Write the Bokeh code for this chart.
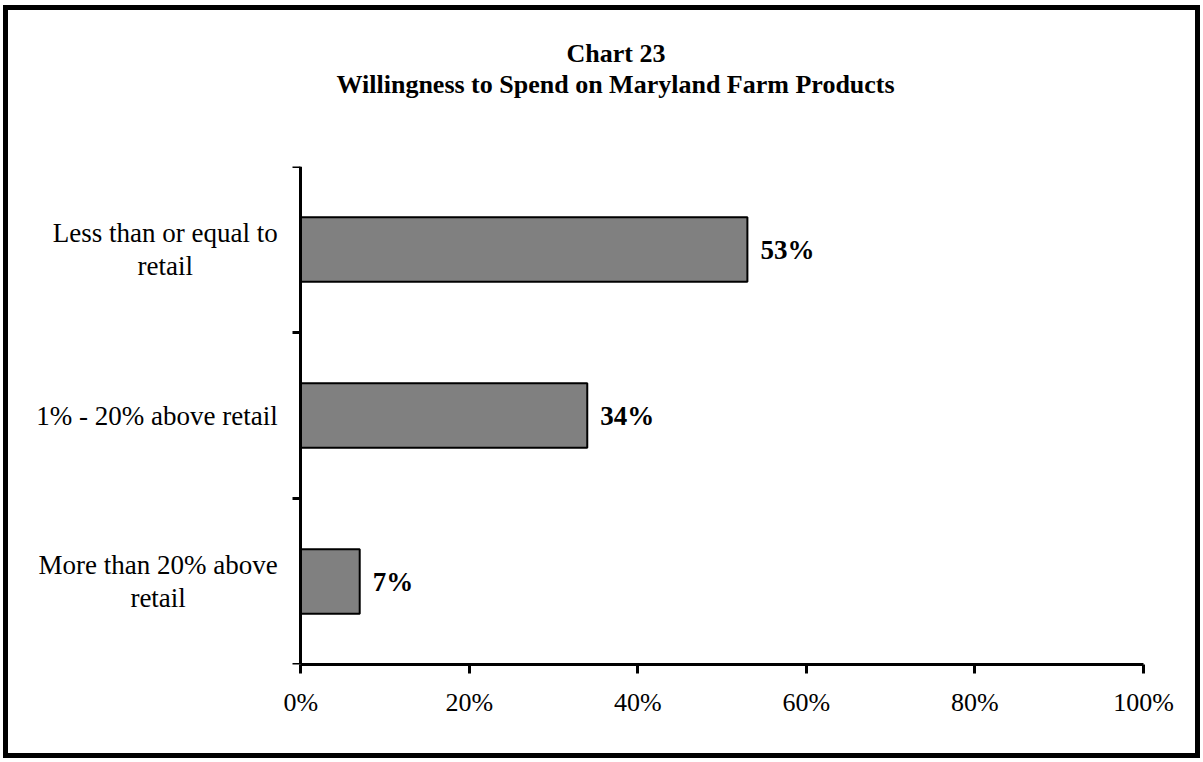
from bokeh.plotting import figure
from bokeh.models import (ColumnDataSource, Range1d, FixedTicker, CustomJSTickFormatter,
                          LabelSet, Label, Title)
from bokeh.embed import file_html
from bokeh.resources import INLINE

# Survey responses: share of respondents by willingness to pay (percent)
categories = ["Less than or equal to\nretail", "1% - 20% above retail", "More than 20% above\nretail"]
values = [53, 34, 7]
x_ticks = [0, 20, 40, 60, 80, 100]
title_lines = ["Chart 23", "Willingness to Spend on Maryland Farm Products"]

SERIF = "Liberation Serif"
BORDER = 5
X_MIN = -32.3   # room inside the frame for the category names

n = len(categories)
# top category first: slot i is centred at n - i - 0.5
ypos = [n - i - 0.5 for i in range(n)]
source = ColumnDataSource(dict(
    y=ypos,
    right=values,
    label=[f"{v}%" for v in values],
))

p = figure(width=1197, height=753, output_backend="svg", toolbar_location=None,
           x_range=Range1d(X_MIN, 100), y_range=Range1d(0, n),
           min_border_left=20, min_border_right=62,
           min_border_top=156, min_border_bottom=99)
p.styles = {"border": f"{BORDER}px solid black", "margin": "5px 0 0 3px"}
p.outline_line_color = None
p.xgrid.visible = False
p.ygrid.visible = False
p.background_fill_color = "white"
p.border_fill_color = "white"

p.hbar(y="y", right="right", left=0, height=0.39, source=source,
       fill_color="#808080", line_color="black", line_width=2)

# value labels at the end of each bar
p.add_layout(LabelSet(x="right", y="y", text="label", source=source,
                      x_offset=13, text_baseline="middle", text_align="left",
                      text_font=SERIF, text_font_style="bold",
                      text_font_size="27px", text_color="black"))

# x axis, drawn only over 0-100 %
xa = p.xaxis[0]
xa.bounds = (0, 100)
xa.ticker = FixedTicker(ticks=x_ticks)
xa.formatter = CustomJSTickFormatter(code="return tick.toFixed(0) + '%';")
xa.major_tick_in = 0
xa.major_tick_out = 9
xa.minor_tick_line_color = None
xa.axis_line_width = 3
xa.major_tick_line_width = 3
xa.major_label_text_font = SERIF
xa.major_label_text_font_size = "26px"
xa.major_label_text_color = "black"
xa.major_label_standoff = 14

# y axis sits at x = 0, with tick marks on the slot boundaries
ya = p.yaxis[0]
ya.fixed_location = 0
ya.ticker = FixedTicker(ticks=list(range(n + 1)))
ya.major_tick_in = 0
ya.major_tick_out = 8
ya.minor_tick_line_color = None
ya.major_tick_line_width = 3
ya.axis_line_width = 3
ya.major_label_text_font_size = "0px"
ya.major_label_text_color = None
ya.major_label_standoff = 0

# category names, right of the block against the axis, lines centred
for cat, y in zip(categories, ypos):
    p.add_layout(Label(x=0, y=y, x_offset=-23, text=cat,
                       anchor="center_right", text_align="center",
                       text_font=SERIF, text_font_size="27px",
                       text_color="black", text_line_height=1.12))

# chart title: a blank spacer row next to the plot, then the two title lines
title_style = dict(text_font=SERIF, text_font_style="bold",
                   text_font_size="26px", text_color="black")
p.add_layout(Title(text=" ", align="left", standoff=37, **title_style), "above")
p.add_layout(Title(text=title_lines[1], align="left", offset=308, standoff=0,
                   **title_style), "above")
p.add_layout(Title(text=title_lines[0], align="left", offset=538, standoff=0,
                   **title_style), "above")

open("out.html", "w").write(file_html(p, INLINE))
